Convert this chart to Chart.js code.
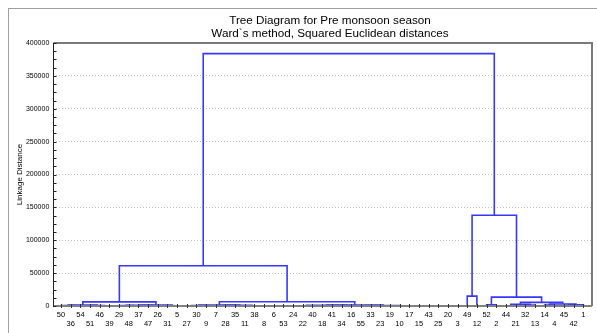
<!DOCTYPE html>
<html><head><meta charset="utf-8">
<script src="https://cdn.jsdelivr.net/npm/chart.js@4"></script>
<style>html,body{margin:0;padding:0;background:#fff;}#wrap{width:597px;height:333px;position:relative;}</style>
</head><body><div id="wrap"><canvas id="c" width="597" height="333"></canvas></div>
<script>
const titleLines = ['Tree Diagram for Pre monsoon season', 'Ward`s method, Squared Euclidean distances'];
const yAxisTitle = 'Linkage Distance';
const leafLabels = ['50','36','54','51','46','39','29','48','37','47','26','31','5','27','30','9','7','28','35','11',
  '38','8','6','53','24','22','40','18','41','34','16','55','33','23','19','10','17','15','43','25',
  '20','3','49','12','52','2','44','21','32','13','14','4','45','42','1'];
const yTicks = [0,50000,100000,150000,200000,250000,300000,350000,400000];
// merge k creates node 'N'+(k+1)
const mergeLeft  = ['36','50','46','51','N2','48','29','47','N7','31','N9','N5','27','N13','7','N15','38','11','N16','N14',
  '6','24','N21','40','N24','N23','34','N26','55','23','10','20','25','43','15','N31','N30','N29','N28','N20','N12',
  '49','52','44','32','N44','14','45','N48','N47','N46','N43','N42','N41'];
const mergeRight = ['54','N1','39','N3','N4','37','N6','26','N8','5','N10','N11','30','9','28','35','8','N17','N18','N19',
  '53','22','N22','18','41','N25','16','N27','33','19','17','3','N32','N33','N34','N35','N36','N37','N38','N39','N40',
  '12','2','21','13','N45','4','42','1','N49','N50','N51','N52','N53'];
const mergeHeight = [200,600,200,700,1500,200,500,300,900,400,1400,6200,300,700,200,500,100,400,900,1400,
  0,0,100,0,100,300,600,1000,300,200,0,0,0,0,0,100,300,700,1500,6400,61200,
  15000,2000,400,1500,2500,1500,700,2000,3000,5500,13500,138000,383900];

const FONT = '"Liberation Sans", Arial, sans-serif';
const LINE = 'rgb(55,55,255)';
const pos = {}, hgt = {};
leafLabels.forEach((l, i) => { pos[l] = i; hgt[l] = 0; });
const datasets = mergeLeft.map((a, k) => {
  const b = mergeRight[k], h = mergeHeight[k], id = 'N' + (k + 1);
  pos[id] = (pos[a] + pos[b]) / 2; hgt[id] = h;
  return {
    data: [{x: pos[a], y: hgt[a]}, {x: pos[a], y: h}, {x: pos[b], y: h}, {x: pos[b], y: hgt[b]}],
    borderColor: LINE, borderWidth: 1.6, pointRadius: 0, showLine: true, tension: 0, fill: false
  };
});

const decor = {
  id: 'decor',
  afterDraw(chart) {
    const ctx = chart.ctx, ca = chart.chartArea, ys = chart.scales.y, xs = chart.scales.x;
    ctx.save();
    // outer frame
    ctx.strokeStyle = '#a0a0a0'; ctx.lineWidth = 1;
    ctx.strokeRect(8.5, 8.5, 600, 400);
    // titles
    ctx.fillStyle = '#000'; ctx.font = '11.7px ' + FONT; ctx.textAlign = 'center'; ctx.textBaseline = 'middle';
    ctx.fillText(titleLines[0], 330, 21);
    ctx.fillText(titleLines[1], 330, 34);
    // top and right frame
    ctx.strokeStyle = '#7a7a7a'; ctx.lineWidth = 2;
    ctx.beginPath(); ctx.moveTo(ca.left, ca.top); ctx.lineTo(ca.right, ca.top); ctx.lineTo(ca.right, ca.bottom); ctx.stroke();
    // bottom axis
    ctx.strokeStyle = '#808080'; ctx.lineWidth = 2;
    ctx.beginPath(); ctx.moveTo(ca.left, ca.bottom); ctx.lineTo(ca.right, ca.bottom); ctx.stroke();
    ctx.strokeStyle = '#333'; ctx.lineWidth = 1;
    leafLabels.forEach((l, i) => {
      const px = Math.round(xs.getPixelForValue(i)) + 0.5;
      ctx.beginPath(); ctx.moveTo(px, ca.bottom - 2); ctx.lineTo(px, ca.bottom + 2); ctx.stroke();
    });
    // left axis
    ctx.strokeStyle = '#222'; ctx.lineWidth = 1;
    const lx = Math.round(ca.left) + 0.5;
    ctx.beginPath(); ctx.moveTo(lx, ca.top); ctx.lineTo(lx, ca.bottom + 1); ctx.stroke();
    for (let v = 0; v <= 400000; v += 12500) {
      const py = Math.round(ys.getPixelForValue(v)) + 0.5;
      ctx.beginPath(); ctx.moveTo(lx, py); ctx.lineTo(lx + 3, py); ctx.stroke();
    }
    ctx.restore();
  }
};

new Chart(document.getElementById('c'), {
  type: 'scatter',
  data: { datasets },
  options: {
    responsive: false, animation: false, devicePixelRatio: 1,
    layout: { padding: { left: 10, right: 5, top: 43, bottom: 0 } },
    plugins: { legend: { display: false }, tooltip: { enabled: false }, title: { display: false } },
    scales: {
      x: {
        type: 'linear', min: -0.8, max: 54.9,
        afterBuildTicks: s => { s.ticks = leafLabels.map((_, i) => ({ value: i })); },
        afterFit: s => { s.height = 27; },
        grid: { display: false, drawTicks: false },
        border: { display: false },
        ticks: {
          autoSkip: false, maxRotation: 0, minRotation: 0, padding: 5, color: '#000',
          font: { family: FONT, size: 7.5, lineHeight: 1.13 },
          callback: (v) => { const i = Math.round(v); return i % 2 === 0 ? [leafLabels[i], ''] : ['', leafLabels[i]]; }
        }
      },
      y: {
        type: 'linear', min: 0, max: 400000,
        afterBuildTicks: s => { s.ticks = yTicks.map(v => ({ value: v })); },
        afterFit: s => { s.width = 43.3; },
        grid: {
          drawTicks: false, lineWidth: 1,
          color: c => (c.tick && (c.tick.value === 0 || c.tick.value === 400000)) ? 'rgba(0,0,0,0)' : '#c0c0c0'
        },
        border: { display: false, dash: [1, 2] },
        ticks: { padding: 4, color: '#000', font: { family: FONT, size: 7 }, callback: v => String(v) },
        title: { display: true, text: yAxisTitle, color: '#000', font: { family: FONT, size: 8 }, padding: { top: 5, bottom: 0 } }
      }
    }
  },
  plugins: [decor]
});
</script>
</body></html>
